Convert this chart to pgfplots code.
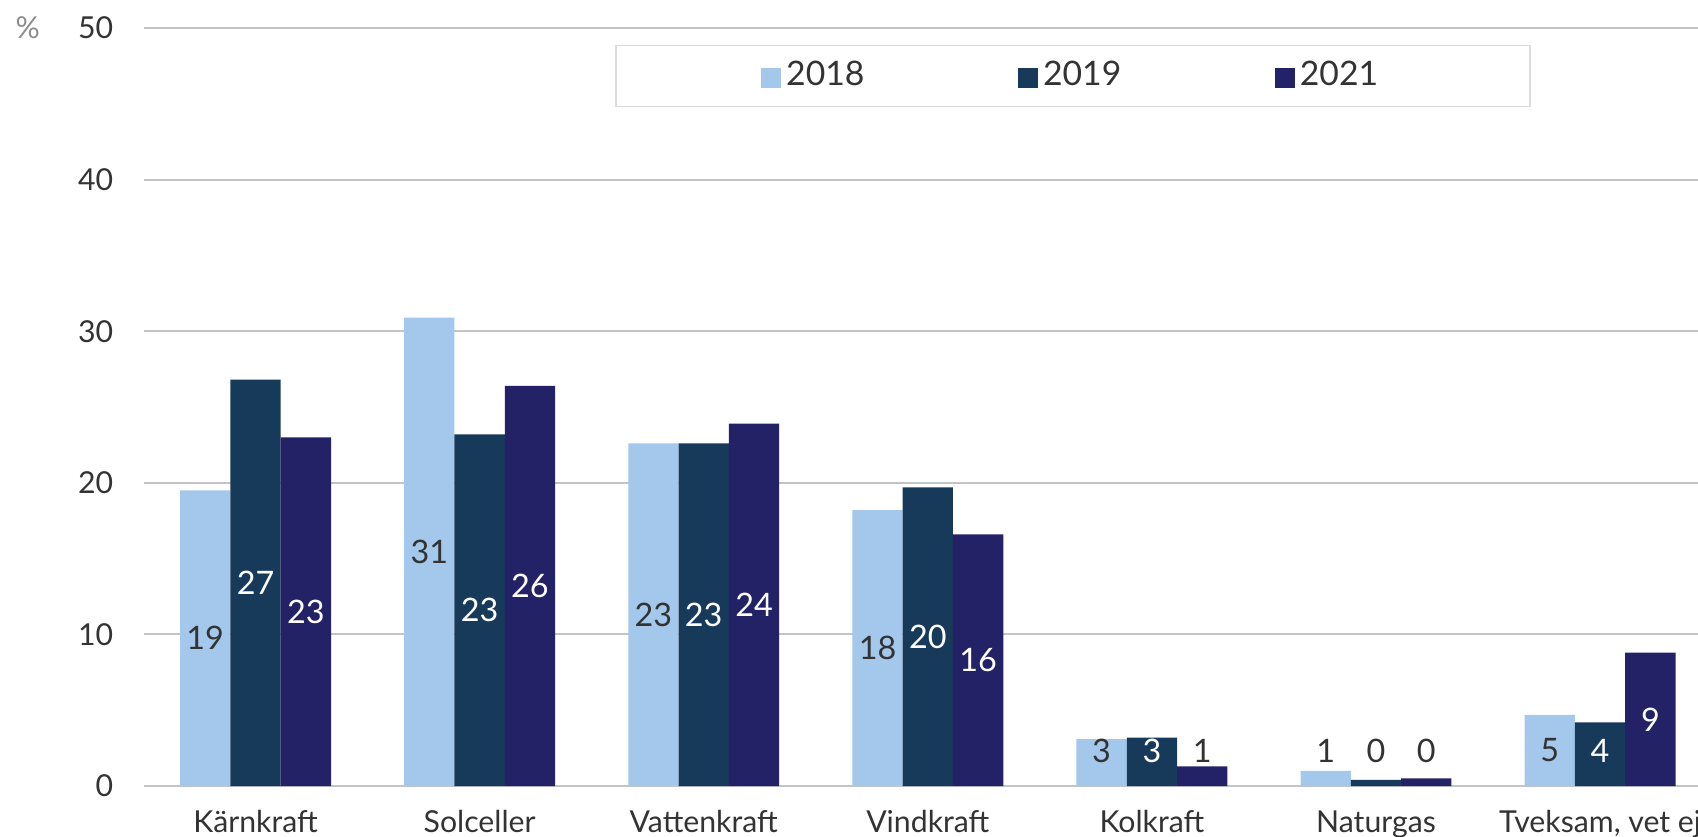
\documentclass[border=0pt]{standalone}
\usepackage{fontspec}
\setmainfont{Lato}
\usepackage{pgfplots}
\pgfplotsset{compat=1.18}
\usepackage{pgfplotstable}

\definecolor{c18}{HTML}{A3C8EB}
\definecolor{c19}{HTML}{173A5B}
\definecolor{c21}{HTML}{232266}
\definecolor{lab}{HTML}{333333}
\definecolor{pct}{HTML}{8C8C8C}
\definecolor{gridc}{HTML}{C4C4C4}
\definecolor{legbd}{HTML}{DCDCDC}

% values (%), rounded labels as printed in the chart
% w19/w21 = 1 where the label is white (inside the dark bar)
\pgfplotstableread{
x v18 v19 v21 l18 l19 l21 w19 w21
0 19.5 26.8 23.0 19 27 23 1 1
1 30.9 23.2 26.4 31 23 26 1 1
2 22.6 22.6 23.9 23 23 24 1 1
3 18.2 19.7 16.6 18 20 16 1 1
4 3.1 3.2 1.3 3 3 1 1 0
5 1.0 0.4 0.5 1 0 0 0 0
6 4.7 4.2 8.8 5 4 9 1 1
}\data

\def\bw{0.2245}
\newcommand\lblfont{\fontsize{9.2}{11}\selectfont}

\pgfplotsset{
  barlabel/.style={draw=none, mark=none, forget plot, nodes near coords,
    point meta=explicit symbolic, nodes near coords align={center},
    every node near coord/.append style={font=\lblfont, text=#1}},
  sqlegend/.style={legend image code/.code={\fill[##1] (0cm,-0.12cm) rectangle (0.2cm,0.08cm);}},
}

\begin{document}
\begin{tikzpicture}
\begin{axis}[
    at={(1.435cm,0.5cm)}, anchor=south west,
    scale only axis,
    width=15.545cm, height=7.58cm,
    xmin=-0.5, xmax=6.437, ymin=0, ymax=50,
    clip=false,
    axis line style={draw=none},
    tick style={draw=none},
    ymajorgrids=true,
    grid style={gridc, line width=0.02cm},
    ytick={0,10,20,30,40,50},
    xtick={0,1,2,3,4,5,6},
    xticklabels={Kärnkraft,Solceller,Vattenkraft,Vindkraft,Kolkraft,Naturgas,{Tveksam, vet ej}},
    ticklabel style={font=\fontsize{8.6}{10}\selectfont, text=lab},
    yticklabel style={xshift=-0.18cm},
    xticklabel style={yshift=-0.12cm},
    /pgf/number format/assume math mode=true,
    legend columns=3,
    legend style={at={(0.3036,0.9776)}, anchor=north west,
        draw=legbd, line width=0.015cm, fill=white,
        font=\fontsize{9.6}{11}\selectfont, text=lab,
        inner xsep=1.45cm, inner ysep=0.085cm,
        /tikz/every odd column/.append style={column sep=-0.02cm},
        /tikz/every even column/.append style={column sep=1.465cm}},
  ]
  \addplot[ybar, sqlegend, bar width=\bw, bar shift=-\bw, fill=c18, draw=none]
    table[x=x, y=v18]{\data};
  \addplot[ybar, sqlegend, bar width=\bw, bar shift=0, fill=c19, draw=none]
    table[x=x, y=v19]{\data};
  \addplot[ybar, sqlegend, bar width=\bw, bar shift=\bw, fill=c21, draw=none]
    table[x=x, y=v21]{\data};
  \legend{2018,2019,2021}

  % data labels, centred in the bar (kept above the base for short bars)
  \addplot[barlabel=lab]
    table[x expr=\thisrow{x}-\bw, y expr={max(\thisrow{v18}/2,2.3)}, meta=l18]{\data};
  \addplot[barlabel=white, restrict expr to domain={\thisrow{w19}}{0.5:1.5}]
    table[x=x, y expr={max(\thisrow{v19}/2,2.3)}, meta=l19]{\data};
  \addplot[barlabel=lab, restrict expr to domain={\thisrow{w19}}{-0.5:0.5}]
    table[x=x, y expr={max(\thisrow{v19}/2,2.3)}, meta=l19]{\data};
  \addplot[barlabel=white, restrict expr to domain={\thisrow{w21}}{0.5:1.5}]
    table[x expr=\thisrow{x}+\bw, y expr={max(\thisrow{v21}/2,2.3)}, meta=l21]{\data};
  \addplot[barlabel=lab, restrict expr to domain={\thisrow{w21}}{-0.5:0.5}]
    table[x expr=\thisrow{x}+\bw, y expr={max(\thisrow{v21}/2,2.3)}, meta=l21]{\data};
\end{axis}
\node[anchor=west, inner sep=0pt, text=pct, font=\fontsize{8.6}{10}\selectfont] at (0.15cm,8.085cm) {\%};
\pgfresetboundingbox
\useasboundingbox (0,0) rectangle (16.98cm,8.36cm);
\end{tikzpicture}
\end{document}
